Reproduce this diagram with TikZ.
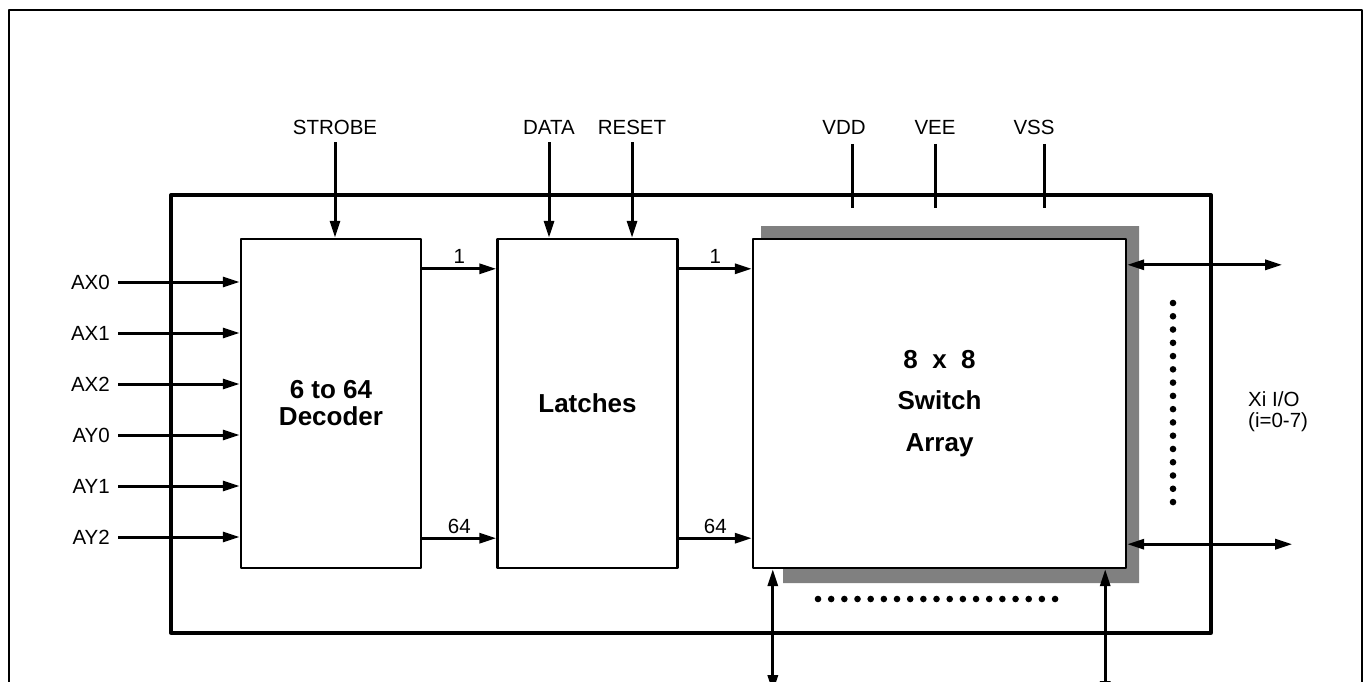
\documentclass[tikz,border=0pt]{standalone}
\usepackage{fontspec}
\setmainfont{Liberation Sans}
\usetikzlibrary{arrows.meta,positioning}
\definecolor{shadowgray}{gray}{0.5}
\begin{document}
\begin{tikzpicture}[x=1pt,y=-1pt,>={Triangle[length=17pt,width=10pt]},line join=round,
	font=\fontsize{20.5}{24}\selectfont,
	blk/.style={draw,line width=2.4pt,fill=white,minimum width=180pt,minimum height=329pt,inner sep=0pt,
		align=center,font=\fontsize{26}{27}\selectfont\bfseries},
	sig/.style={line width=3pt,->},
	pwr/.style={line width=3pt},
	toplbl/.style={inner xsep=0pt,inner ysep=8pt},
	inlbl/.style={anchor=east,inner xsep=8pt,inner ysep=0pt}]
	\useasboundingbox (0,0) rectangle (1365,682);
	\draw[line width=2.8pt] (9,700)--(9,10)--(1362,10)--(1362,700);
	\node[draw,line width=3.3pt,minimum width=1040pt,minimum height=438pt,inner sep=0pt] (chip) at (691,414) {};
	\fill[shadowgray] (761,226)--(1139,226)--(1139,583)--(783,583)--(783,400)--(761,400)--cycle;
	\node[blk] (dec) at (331,403.5) {6 to 64\\Decoder};
	\node[blk] (lat) at (587.5,403.5) {Latches};
	\node[blk,minimum width=373pt,font=\fontsize{26}{41.5}\selectfont\bfseries] (sw) at (939.5,403.5) {8\ \ x\ \ 8\\Switch\\Array};
	% control inputs
	\node[toplbl] (strobe) at (335,127) {STROBE};
	\node[toplbl] (data) at (549,127) {DATA};
	\node[toplbl] (reset) at (632,127) {RESET};
	\draw[sig] (strobe.south)--(strobe.south |- dec.north);
	\draw[sig] (data.south)--(data.south |- lat.north);
	\draw[sig] (reset.south)--(reset.south |- lat.north);
	% supplies
	\node[toplbl] (vdd) at (844,127) {VDD};
	\node[toplbl] (vee) at (935,127) {VEE};
	\node[toplbl] (vss) at (1034,127) {VSS};
	\draw[pwr] ([xshift=8pt,yshift=-1.5pt]vdd.south)--++(0,64);
	\draw[pwr] ([yshift=-1.5pt]vee.south)--++(0,64);
	\draw[pwr] ([xshift=10pt,yshift=-1.5pt]vss.south)--++(0,64);
	% address inputs
	\foreach \n [count=\i from 0] in {AX0,AX1,AX2,AY0,AY1,AY2}
	{
		\node[inlbl] (in\i) at (118,{282+51*\i}) {\n};
		\draw[sig] (in\i.east)--(in\i.east -| dec.west);
	}
	% decoder to latches to switch array
	\draw[sig] ([yshift=-31pt]dec.north east) coordinate (d1)--(d1 -| lat.west) node[midway,above]{1};
	\draw[sig] ([yshift=31pt]dec.south east) coordinate (d64)--(d64 -| lat.west) node[midway,above]{64};
	\draw[sig] ([yshift=-31pt]lat.north east) coordinate (l1)--(l1 -| sw.west) node[midway,above]{1};
	\draw[sig] ([yshift=31pt]lat.south east) coordinate (l64)--(l64 -| sw.west) node[midway,above]{64};
	% Xi I/O
	\draw[sig,<->] ([yshift=-27pt]sw.north east)--++(155,0);
	\draw[sig,<->] ([yshift=25pt]sw.south east)--++(165,0);
	\foreach \k in {0,...,15} \fill (1173,{303+13.27*\k}) circle(3.3pt);
	\node[anchor=west,align=left,inner sep=0pt,font=\fontsize{20.5}{21}\selectfont] (xio) at (1248,412) {Xi I/O\\(i=0-7)};
	% Yi I/O
	\draw[sig,<->] ([xshift=21pt]sw.south west)--++(0,123);
	\draw[sig,<->] ([xshift=-22pt]sw.south east)--++(0,129);
	\foreach \k in {0,...,18} \fill ({818+13.17*\k},599) circle(3.3pt);
\end{tikzpicture}
\end{document}
